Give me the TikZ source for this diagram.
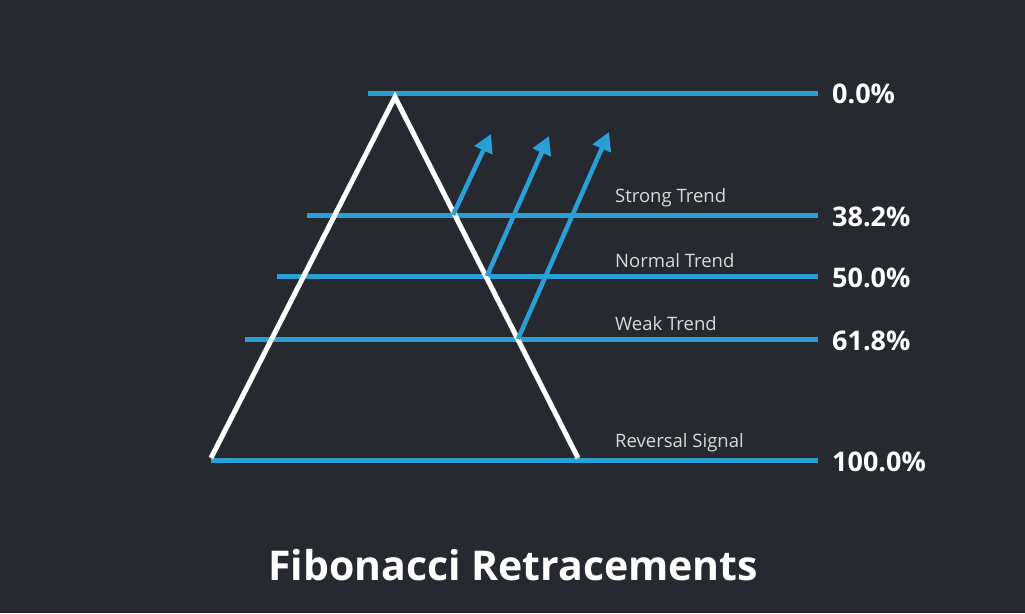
\documentclass[tikz,border=0pt]{standalone}
\usepackage{fontspec}
\setmainfont{Open Sans}
\usetikzlibrary{arrows.meta}
\definecolor{bg}{HTML}{262A30}
\definecolor{fib}{HTML}{2A9FD6}
\definecolor{lbl}{HTML}{D8D8D8}
\begin{document}
\begin{tikzpicture}[x=1pt,y=-1pt,
  level/.style={draw=fib,line width=5pt},
  pct/.style={anchor=west,text=white,font=\fontsize{27}{30}\selectfont\bfseries,inner sep=0},
  trend/.style={anchor=south west,text=lbl,font=\fontsize{18.5}{20}\selectfont,inner sep=0},
  up/.style={draw=fib,line width=4.5pt,-{Triangle[length=18pt,width=19pt]}}]
\fill[bg] (0,0) rectangle (1025,613);
\useasboundingbox (0,0) rectangle (1025,613);
\coordinate (l0a) at (368,93); \coordinate (l0b) at (818,93);
\coordinate (l1a) at (307,215); \coordinate (l1b) at (818,215);
\coordinate (l2a) at (277,276); \coordinate (l2b) at (818,276);
\coordinate (l3a) at (245,339); \coordinate (l3b) at (818,339);
\coordinate (l4a) at (211,460); \coordinate (l4b) at (818,460);
\foreach \i in {0,...,4} \draw[level] (l\i a) -- (l\i b);
\coordinate (apex) at (395,97);
\coordinate (bl) at (211,458);
\coordinate (br) at (578,458);
\draw[white,line width=5pt,line join=miter] (bl) -- (apex) -- (br);
\coordinate (s1) at (453,215); \coordinate (e1) at (491,134);
\coordinate (s2) at (487,276); \coordinate (e2) at (549,136);
\coordinate (s3) at (518,339); \coordinate (e3) at (609,132);
\draw[up] (s1) -- (e1);
\draw[up] (s2) -- (e2);
\draw[up] (s3) -- (e3);
\node[pct] (p0) at (832,94) {0.0\%};
\node[pct] (p1) at (832,217) {38.2\%};
\node[pct] (p2) at (832,278) {50.0\%};
\node[pct] (p3) at (832,341) {61.8\%};
\node[pct] (p4) at (832,462) {100.0\%};
\node[trend] (t1) at (615,207) {Strong Trend};
\node[trend] (t2) at (615,268) {Normal Trend};
\node[trend] (t3) at (615,331) {Weak Trend};
\node[trend] (t4) at (615,452) {Reversal Signal};
\node[text=white,font=\fontsize{41}{44}\selectfont\bfseries] (title) at (513,565) {Fibonacci Retracements};
\end{tikzpicture}
\end{document}
